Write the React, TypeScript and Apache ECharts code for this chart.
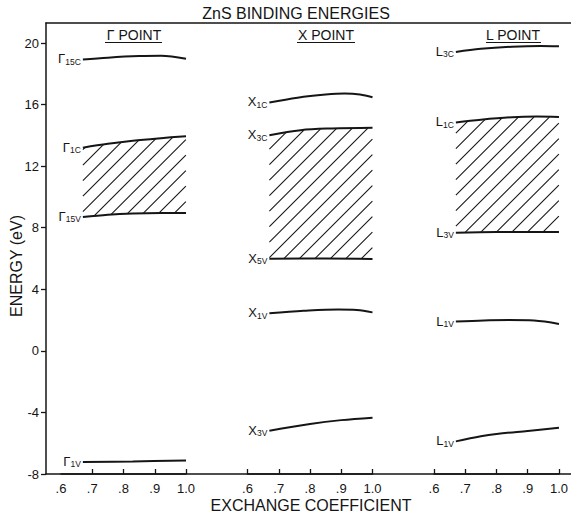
import React, { useEffect, useRef } from "react";
import * as echarts from "echarts";

// ---------- data ----------
const chartTitle = "ZnS BINDING ENERGIES";
const panelTitles = ["Γ POINT", "X POINT", "L POINT"];
const xAxisTitle = "EXCHANGE COEFFICIENT";
const yAxisTitle = "ENERGY (eV)";
const yTicks = [-8, -4, 0, 4, 8, 12, 16, 20];
const xTicksFirst = [0.7, 0.8, 0.9, 1.0];
const xTicksOther = [0.6, 0.7, 0.8, 0.9, 1.0];

// Γ point
const gamma15c = [[0.67, 18.93], [0.75, 19.05], [0.85, 19.15], [0.92, 19.17], [1.0, 18.98]];
const gamma1c = [[0.67, 13.2], [0.75, 13.45], [0.83, 13.65], [0.92, 13.82], [1.0, 13.95]];
const gamma15v = [[0.67, 8.7], [0.75, 8.85], [0.83, 8.93], [0.92, 8.96], [1.0, 8.95]];
const gamma1v = [[0.67, -7.22], [0.83, -7.18], [1.0, -7.12]];
// X point
const x1c = [[0.67, 16.14], [0.76, 16.45], [0.85, 16.65], [0.91, 16.72], [0.96, 16.66], [1.0, 16.48]];
const x3c = [[0.67, 14.01], [0.77, 14.34], [0.87, 14.45], [1.0, 14.5]];
const x5v = [[0.67, 5.98], [0.85, 6.0], [1.0, 5.97]];
const x1v = [[0.67, 2.44], [0.78, 2.6], [0.89, 2.69], [0.95, 2.66], [1.0, 2.5]];
const x3v = [[0.67, -5.19], [0.8, -4.75], [0.9, -4.5], [1.0, -4.34]];
// L point
const l3c = [[0.67, 19.42], [0.75, 19.62], [0.85, 19.76], [0.94, 19.81], [1.0, 19.79]];
const l1c = [[0.67, 14.84], [0.75, 15.02], [0.85, 15.18], [0.93, 15.22], [1.0, 15.2]];
const l3v = [[0.67, 7.67], [0.8, 7.73], [1.0, 7.73]];
const l1vUpper = [[0.67, 1.9], [0.76, 1.98], [0.84, 2.0], [0.92, 1.97], [1.0, 1.75]];
const l1vLower = [[0.67, -5.88], [0.75, -5.55], [0.8, -5.4], [0.9, -5.2], [1.0, -5.0]];

const curves = [
  { panel: 0, sym: "Γ", sub: "15C", data: gamma15c },
  { panel: 0, sym: "Γ", sub: "1C", data: gamma1c },
  { panel: 0, sym: "Γ", sub: "15V", data: gamma15v },
  { panel: 0, sym: "Γ", sub: "1V", data: gamma1v },
  { panel: 1, sym: "X", sub: "1C", data: x1c },
  { panel: 1, sym: "X", sub: "3C", data: x3c },
  { panel: 1, sym: "X", sub: "5V", data: x5v },
  { panel: 1, sym: "X", sub: "1V", data: x1v },
  { panel: 1, sym: "X", sub: "3V", data: x3v },
  { panel: 2, sym: "L", sub: "3C", data: l3c },
  { panel: 2, sym: "L", sub: "1C", data: l1c },
  { panel: 2, sym: "L", sub: "3V", data: l3v },
  { panel: 2, sym: "L", sub: "1V", data: l1vUpper },
  { panel: 2, sym: "L", sub: "1V", data: l1vLower },
];

const bands = [
  { panel: 0, lower: gamma15v, upper: gamma1c },
  { panel: 1, lower: x5v, upper: x3c },
  { panel: 2, lower: l3v, upper: l1c },
];

// ---------- layout / style ----------
const FONT = '"Liberation Sans", Arial, sans-serif';
const INK = "#151515";
const W = 571;
const H = 514;
const GRID_TOP = 23;
const GRID_BOTTOM = 40;
const Y_MIN = -8;
const Y_MAX = 21.3;
const PANEL_LEFTS = [61, 247.5, 434];
const PANEL_WIDTH = 125;
const TITLE_CENTERS = [134, 326, 513];
const UNDERLINES = [[105, 162], [297, 355], [486, 541]];
const HATCH_STEP = 15.5;

function interp(pts: number[][], x: number) {
  if (x <= pts[0][0]) return pts[0][1];
  for (let i = 1; i < pts.length; i++) {
    if (x <= pts[i][0]) {
      const t = (x - pts[i - 1][0]) / (pts[i][0] - pts[i - 1][0] || 1);
      return pts[i - 1][1] + t * (pts[i][1] - pts[i - 1][1]);
    }
  }
  return pts[pts.length - 1][1];
}

function fmtX(v: number) {
  if (Math.abs(v - 1) < 1e-6) return "1.0";
  return "." + Math.round(v * 10);
}

export default function App() {
  const ref = useRef<HTMLDivElement>(null);

  useEffect(() => {
    if (!ref.current) return;
    const chart = echarts.init(ref.current, null, { renderer: "svg" });

    const grids: any[] = [{ left: 46, top: GRID_TOP, right: 0, bottom: GRID_BOTTOM }];
    PANEL_LEFTS.forEach((l) =>
      grids.push({ left: l, top: GRID_TOP, width: PANEL_WIDTH, bottom: GRID_BOTTOM })
    );

    const frameLine = { show: true, onZero: false, lineStyle: { color: INK, width: 1.5 } };
    const xAxes: any[] = [
      { gridIndex: 0, type: "value", position: "bottom", min: 0, max: 1, axisLine: frameLine, axisTick: { show: false }, axisLabel: { show: false }, splitLine: { show: false } },
      { gridIndex: 0, type: "value", position: "top", min: 0, max: 1, axisLine: frameLine, axisTick: { show: false }, axisLabel: { show: false }, splitLine: { show: false } },
    ];
    const yAxes: any[] = [
      {
        gridIndex: 0,
        type: "value",
        min: Y_MIN,
        max: Y_MAX,
        interval: 4,
        axisLine: frameLine,
        axisTick: { show: true, inside: false, length: 5, lineStyle: { color: INK, width: 1.3 }, customValues: yTicks },
        axisLabel: {
          customValues: yTicks,
          formatter: (v: number) => (yTicks.includes(v) ? String(v) : ""),
          fontSize: 13,
          fontFamily: FONT,
          color: INK,
          margin: 7,
        },
        splitLine: { show: false },
      },
    ];
    PANEL_LEFTS.forEach((_, k) => {
      const ticks = k === 0 ? xTicksFirst : xTicksOther;
      xAxes.push({
        gridIndex: k + 1,
        type: "value",
        position: "bottom",
        min: 0.6,
        max: 1.0,
        interval: 0.1,
        axisLine: frameLine,
        axisTick: { show: true, inside: true, length: 5, lineStyle: { color: INK, width: 1.3 }, customValues: ticks },
        axisLabel: {
          customValues: xTicksOther,
          formatter: fmtX,
          fontSize: 13,
          fontFamily: FONT,
          color: INK,
          margin: 8,
          showMinLabel: true,
          showMaxLabel: true,
        },
        splitLine: { show: false },
      });
      yAxes.push({ gridIndex: k + 1, type: "value", min: Y_MIN, max: Y_MAX, show: false });
    });

    const series: any[] = [];
    bands.forEach((b) => {
      series.push({
        type: "custom",
        xAxisIndex: b.panel + 2,
        yAxisIndex: b.panel + 1,
        silent: true,
        z: 1,
        data: [[0.8, 10]],
        renderItem: (_params: any, api: any) => {
          const lo = b.lower.map((p) => api.coord(p));
          const up = b.upper.map((p) => api.coord(p));
          const x0 = Math.max(lo[0][0], up[0][0]);
          const x1 = Math.min(lo[lo.length - 1][0], up[up.length - 1][0]);
          const cMin = x0 + interp(up, x0);
          const cMax = x1 + interp(lo, x1);
          const children: any[] = [];
          for (let c = Math.ceil(cMin / HATCH_STEP) * HATCH_STEP; c < cMax; c += HATCH_STEP) {
            let a: number | null = null;
            let e: number | null = null;
            for (let x = x0; x <= x1 + 1e-6; x += 0.5) {
              const y = c - x;
              if (y >= interp(up, x) && y <= interp(lo, x)) {
                if (a === null) a = x;
                e = x;
              }
            }
            if (a !== null && e !== null && e - a > 1) {
              children.push({
                type: "line",
                shape: { x1: a, y1: c - a, x2: e, y2: c - e },
                style: { stroke: INK, lineWidth: 1.1 },
              });
            }
          }
          return { type: "group", children };
        },
      });
    });

    curves.forEach((cv) => {
      const data = cv.data.map((p, i) =>
        i === 0
          ? {
              value: p,
              label: {
                show: true,
                position: "left",
                distance: 2,
                formatter: `{m|${cv.sym}}{s|${cv.sub}}`,
                rich: {
                  m: { fontSize: 13, fontFamily: FONT, color: INK, lineHeight: 14, verticalAlign: "top" },
                  s: { fontSize: 8.5, fontFamily: FONT, color: INK, lineHeight: 10, verticalAlign: "bottom", padding: [7, 0, 0, 0] },
                },
              },
            }
          : { value: p }
      );
      series.push({
        type: "line",
        xAxisIndex: cv.panel + 2,
        yAxisIndex: cv.panel + 1,
        data,
        smooth: 0.35,
        symbol: "circle",
        symbolSize: 0.1,
        showSymbol: true,
        showAllSymbol: true,
        silent: true,
        z: 3,
        lineStyle: { color: INK, width: 2 },
        itemStyle: { color: INK },
        label: { show: false },
        emphasis: { disabled: true },
      });
    });

    const graphics: any[] = [
      {
        type: "text",
        x: 296,
        y: 13,
        style: { text: chartTitle, fill: INK, font: `16px ${FONT}`, align: "center", verticalAlign: "middle" },
      },
      {
        type: "text",
        x: 311,
        y: 505,
        style: { text: xAxisTitle, fill: INK, font: `16px ${FONT}`, align: "center", verticalAlign: "middle" },
      },
      {
        type: "text",
        x: 16,
        y: 266,
        rotation: Math.PI / 2,
        style: { text: yAxisTitle, fill: INK, font: `16px ${FONT}`, align: "center", verticalAlign: "middle" },
      },
    ];
    panelTitles.forEach((t, k) => {
      graphics.push({
        type: "text",
        x: TITLE_CENTERS[k],
        y: 35,
        style: { text: t, fill: INK, font: `14px ${FONT}`, align: "center", verticalAlign: "middle" },
      });
      graphics.push({
        type: "line",
        shape: { x1: UNDERLINES[k][0], y1: 42.5, x2: UNDERLINES[k][1], y2: 42.5 },
        style: { stroke: INK, lineWidth: 1.2 },
      });
    });

    chart.setOption({
      animation: false,
      backgroundColor: "#ffffff",
      textStyle: { fontFamily: FONT },
      grid: grids,
      xAxis: xAxes,
      yAxis: yAxes,
      series,
      graphic: graphics,
    });

    return () => chart.dispose();
  }, []);

  return (
    <div
      ref={ref}
      style={{ position: "absolute", left: 0, top: 0, width: W, height: H, background: "#fff" }}
    />
  );
}
